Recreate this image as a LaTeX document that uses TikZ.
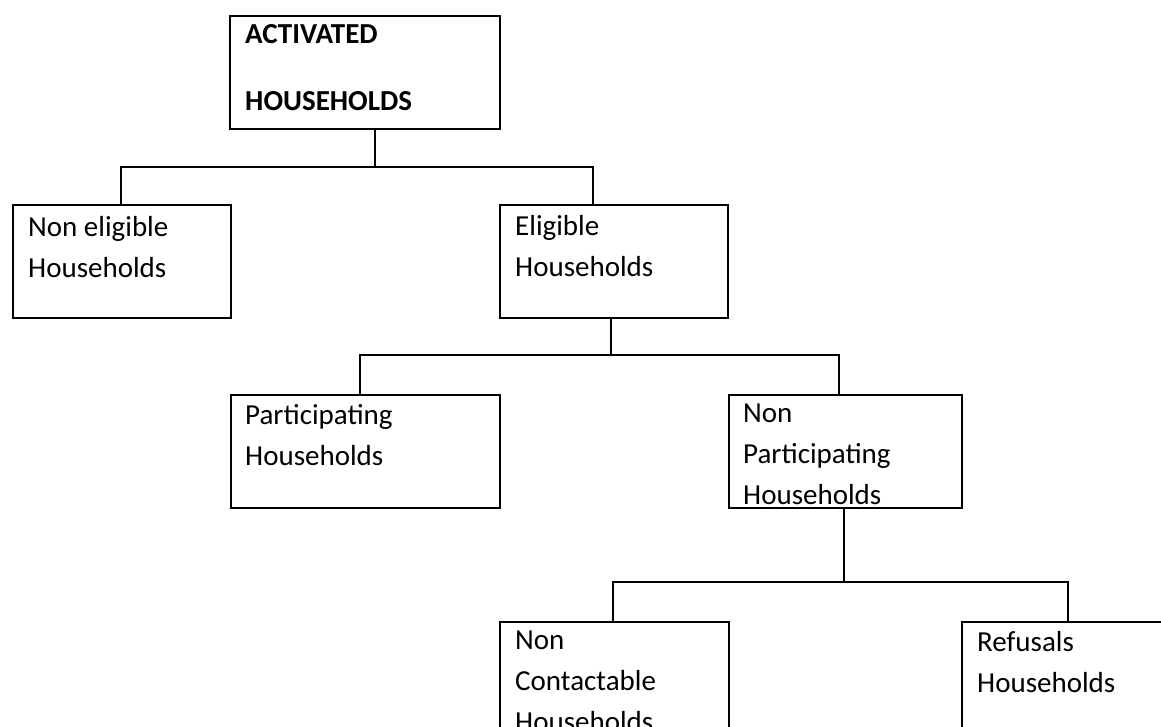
\documentclass[tikz,border=0pt]{standalone}
\usepackage{fontspec}
\setmainfont{Carlito}
\usetikzlibrary{calc}
\tikzset{
  box/.style={draw=black, line width=2pt, rectangle, inner sep=0pt, anchor=north west},
  lbl/.style={anchor=base west, inner sep=0pt, align=left, font=\fontsize{29}{41}\selectfont},
  conn/.style={draw=black, line width=2pt}
}
\begin{document}
\begin{tikzpicture}[x=1pt,y=-1pt]
\useasboundingbox (0,0) rectangle (1161,726);
\clip (0,0) rectangle (1161,726);
% boxes
\node[box, minimum width=270pt, minimum height=113pt] (act) at (229,15) {};
\node[box, minimum width=218pt, minimum height=113pt] (nel) at (12,204) {};
\node[box, minimum width=228pt, minimum height=113pt] (eli) at (499,204) {};
\node[box, minimum width=269pt, minimum height=113pt] (par) at (230,394) {};
\node[box, minimum width=233pt, minimum height=113pt] (npa) at (728,394) {};
\node[box, minimum width=229pt, minimum height=150pt] (nco) at (499,621) {};
\node[box, minimum width=250pt, minimum height=150pt] (ref) at (961,621) {};
% labels (anchor = baseline of last line)
\node[lbl, font=\fontsize{29}{67}\selectfont\bfseries] (tact) at ($(act.north west)+(16,95)$) {ACTIVATED\\HOUSEHOLDS};
\node[lbl] (tnel) at ($(nel.north west)+(16,73)$) {Non eligible\\Households};
\node[lbl] (teli) at ($(eli.north west)+(16,72)$) {Eligible\\Households};
\node[lbl] (tpar) at ($(par.north west)+(15,71)$) {Participating\\Households};
\node[lbl] (tnpa) at ($(npa.north west)+(15,110)$) {Non\\Participating\\Households};
\node[lbl] (tnco) at ($(nco.north west)+(16,110)$) {Non\\Contactable\\Households};
\node[lbl] (tref) at ($(ref.north west)+(16,71)$) {Refusals\\Households};
% junction coordinates
\coordinate (j1) at (375,167);
\coordinate (j2) at (611,355);
\coordinate (j3) at (844,582);
% connectors
\draw[conn] (act.south -| j1) -- (j1);
\draw[conn] (nel.north -| 121,0) -- (121,167) -- (593,167) -- (eli.north -| 593,0);
\draw[conn] (eli.south -| j2) -- (j2);
\draw[conn] (par.north -| 360,0) -- (360,355) -- (839,355) -- (npa.north -| 839,0);
\draw[conn] (npa.south -| j3) -- (j3);
\draw[conn] (nco.north -| 613,0) -- (613,582) -- (1068,582) -- (ref.north -| 1068,0);
\end{tikzpicture}
\end{document}
